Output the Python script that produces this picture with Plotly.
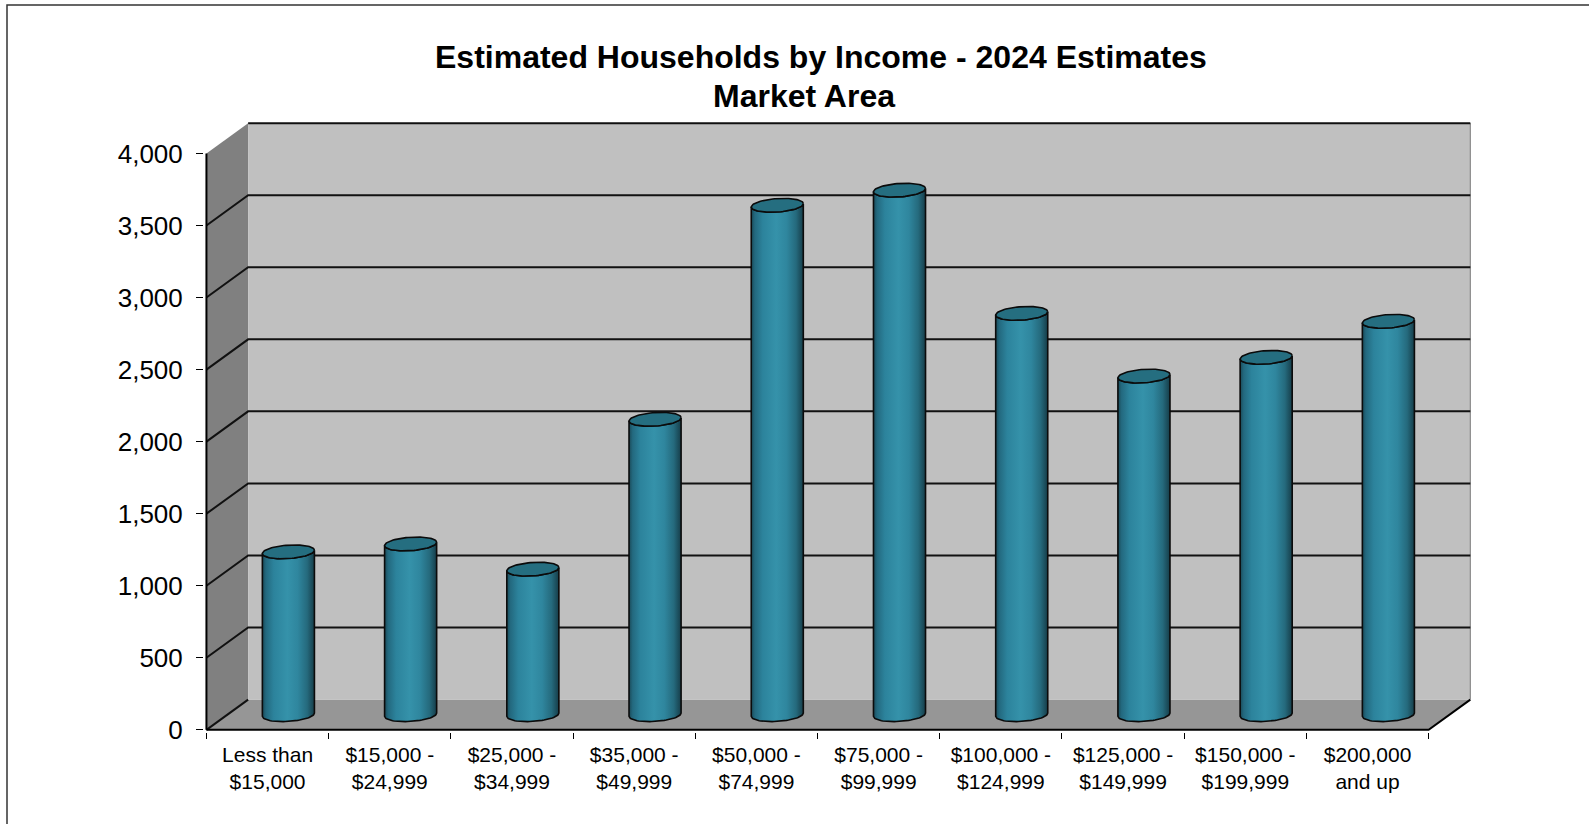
import numpy as np
import plotly.graph_objects as go

# ---------------- data ----------------
categories = ["Less than<br>$15,000", "$15,000 -<br>$24,999", "$25,000 -<br>$34,999",
              "$35,000 -<br>$49,999", "$50,000 -<br>$74,999", "$75,000 -<br>$99,999",
              "$100,000 -<br>$124,999", "$125,000 -<br>$149,999", "$150,000 -<br>$199,999",
              "$200,000<br>and up"]
households = [1130, 1185, 1010, 2050, 3535, 3640, 2785, 2350, 2480, 2730]
y_ticks = [0, 500, 1000, 1500, 2000, 2500, 3000, 3500, 4000]
title_lines = ["Estimated Households by Income - 2024 Estimates", "Market Area"]

# ---------------- pseudo-3D geometry (in axis units) ----------------
n = len(categories)
D = 0.341        # depth offset along x (category units)
E = 210.0        # depth offset along y (value units)
ymax_tick = y_ticks[-1]
R = 0.213        # cylinder radius (x units)
B = 46.5         # ellipse half-height (y units)
S = 54.0         # slight tilt of ellipses
FONT = "Arial, Liberation Sans, sans-serif"

fig = go.Figure()

def poly(xs, ys, fill, line_color="rgba(0,0,0,0)", lw=0):
    fig.add_trace(go.Scatter(x=xs, y=ys, mode="lines", fill="toself", fillcolor=fill,
                             line=dict(color=line_color, width=lw), hoverinfo="skip",
                             showlegend=False))

x0, x1 = -0.5, n - 0.5
# floor
poly([x0, x1, x1 + D, x0 + D, x0], [0, 0, E, E, 0], "#969696")
# side wall
poly([x0, x0 + D, x0 + D, x0, x0], [0, E, ymax_tick + E, ymax_tick, 0], "#808080")
# back wall
poly([x0 + D, x1 + D, x1 + D, x0 + D, x0 + D], [E, E, ymax_tick + E, ymax_tick + E, E], "#c0c0c0")

# back-wall right edge
fig.add_trace(go.Scatter(x=[x1 + D, x1 + D], y=[E, ymax_tick + E], mode="lines",
                         line=dict(color="#8a8a8a", width=1.2), hoverinfo="skip", showlegend=False))

# gridlines: diagonal on side wall + horizontal on back wall
gx, gy = [], []
for v in y_ticks:
    if v < ymax_tick:
        gx += [x0, x0 + D]
        gy += [v, v + E]
        if v > 0:
            gx += [x1 + D]
            gy += [v + E]
        gx.append(None); gy.append(None)
    else:
        gx += [x0 + D, x1 + D, None]
        gy += [v + E, v + E, None]
fig.add_trace(go.Scatter(x=gx, y=gy, mode="lines", line=dict(color="#111111", width=2),
                         hoverinfo="skip", showlegend=False))

# front axis lines
fig.add_trace(go.Scatter(x=[x0, x0, None, x0, x1, x1 + D], y=[ymax_tick, 0, None, 0, 0, E],
                         mode="lines", line=dict(color="#000000", width=2),
                         hoverinfo="skip", showlegend=False))

# cylinders
grad = [[0.0, "#1a4a58"], [0.07, "#23697f"], [0.22, "#2c839c"], [0.48, "#3592aa"],
        [0.68, "#2f869e"], [0.86, "#256a7d"], [1.0, "#163d49"]]
t_front = np.linspace(np.pi, 2 * np.pi, 40)
t_full = np.linspace(0, 2 * np.pi, 80)
for i, v in enumerate(households):
    cx = i + D / 2
    base = E / 2
    top = v + E / 2
    tx = cx + R * np.cos(t_front)
    ty = top + B * np.sin(t_front) + S * R * np.cos(t_front)
    bx = cx + R * np.cos(t_front[::-1])
    by = base + B * np.sin(t_front[::-1]) + S * R * np.cos(t_front[::-1])
    xs = list(tx) + list(bx) + [tx[0]]
    ys = list(ty) + list(by) + [ty[0]]
    fig.add_trace(go.Scatter(x=xs, y=ys, mode="lines", fill="toself",
                             fillgradient=dict(type="horizontal", colorscale=grad),
                             line=dict(color="#0b0b0b", width=1.6),
                             hovertemplate=categories[i].replace("<br>", " ") + ": %{customdata:,}<extra></extra>",
                             customdata=[v] * len(xs), showlegend=False))
    ex = cx + R * np.cos(t_full)
    ey = top + B * np.sin(t_full) + S * R * np.cos(t_full)
    fig.add_trace(go.Scatter(x=ex, y=ey, mode="lines", fill="toself", fillcolor="#256e80",
                             line=dict(color="#0b0b0b", width=1.6), hoverinfo="skip",
                             showlegend=False))

# ---------------- layout ----------------
W, H = 1589, 824
ml, mr, mt, mb = 204, 115, 121, 92
PW, PH = W - ml - mr, H - mt - mb

def px_to_paper(px, py):
    return (px - ml) / PW, (H - mb - py) / PH

title_pos = [(821, 57), (804, 96)]
annotations = []
for txt, (px, py) in zip(title_lines, title_pos):
    ax, ay = px_to_paper(px, py)
    annotations.append(dict(text="<b>" + txt + "</b>", x=ax, y=ay, xref="paper", yref="paper",
                            xanchor="center", yanchor="middle", showarrow=False,
                            font=dict(family=FONT, size=32, color="black")))

fig.update_layout(
    width=W, height=H,
    margin=dict(l=ml, r=mr, t=mt, b=mb, pad=0),
    paper_bgcolor="white", plot_bgcolor="white",
    font=dict(family=FONT, color="black"),
    annotations=annotations,
    showlegend=False,
    xaxis=dict(range=[-0.52, n - 0.5 + D + 0.03], tickvals=list(range(n)), ticktext=categories,
               ticks="", showgrid=False, zeroline=False, showline=False,
               tickfont=dict(family=FONT, size=21, color="black"), ticklabelstandoff=8,
               minor=dict(tickvals=[k - 0.5 for k in range(n + 1)], ticks="outside",
                          ticklen=6, tickcolor="black", tickwidth=1, showgrid=False),
               fixedrange=True),
    yaxis=dict(range=[-15, ymax_tick + E + 15], tickvals=y_ticks, tickformat=",",
               ticks="outside", ticklen=7, tickcolor="black", tickwidth=1,
               showgrid=False, zeroline=False, showline=False,
               tickfont=dict(family=FONT, size=26, color="black"), ticklabelstandoff=8,
               fixedrange=True),
    shapes=[dict(type="rect", xref="paper", yref="paper",
                 x0=(7 - ml) / PW, x1=1.3,
                 y0=-0.3, y1=(H - mb - 5) / PH,
                 line=dict(color="#333333", width=1.5), fillcolor="rgba(0,0,0,0)", layer="above")],
)

fig.write_html("out.html", config={"displayModeBar": False},
               post_script="document.body.style.margin='0';document.body.style.overflow='hidden';")
